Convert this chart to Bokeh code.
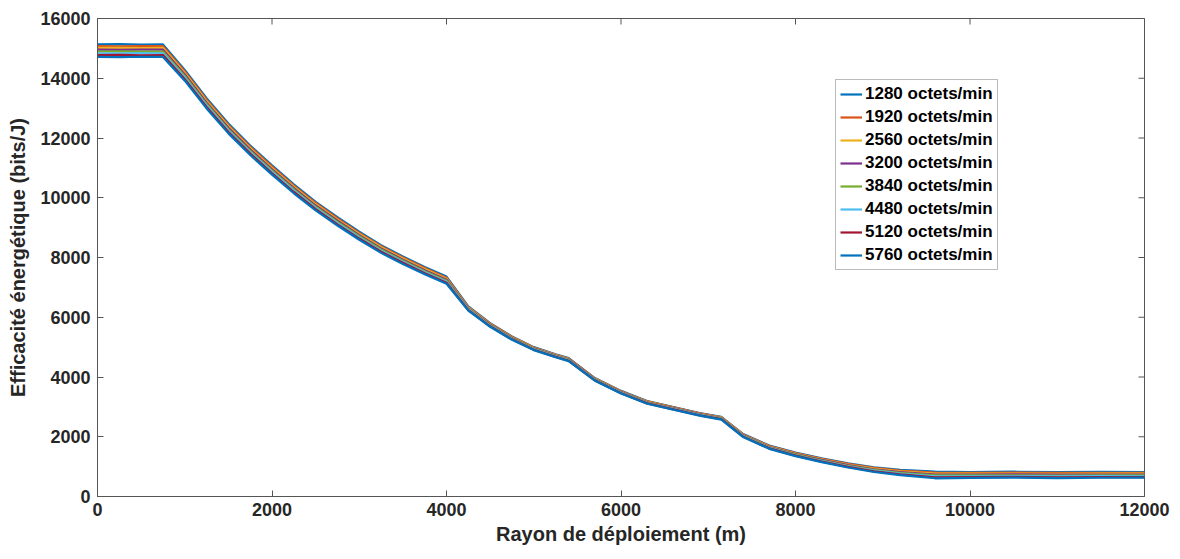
from bokeh.plotting import figure
from bokeh.models import Range1d, Legend, LegendItem, FixedTicker
from bokeh.embed import file_html
from bokeh.resources import INLINE
import math

# Rayon de déploiement (m)
x_m = [0, 250, 500, 750, 1000, 1250, 1500, 1750, 2000, 2250, 2500, 2750, 3000, 3250,
       3500, 3750, 4000, 4250, 4500, 4750, 5000, 5250, 5400, 5700, 6000, 6300, 6600,
       6900, 7150, 7400, 7700, 8000, 8300, 8600, 8900, 9200, 9600, 10000, 10500, 11000,
       11500, 12000]

# Efficacité énergétique (bits/J) per traffic rate
s1280 = [15135, 15140, 15130, 15135, 14280, 13330, 12485, 11750, 11085, 10450, 9865, 9350,
         8865, 8415, 8035, 7680, 7360, 6360, 5800, 5355, 5000, 4760, 4630, 3965, 3535, 3195,
         2995, 2795, 2665, 2090, 1705, 1470, 1280, 1110, 980, 895, 830, 820, 830, 815, 825, 820]
s1920 = [15075, 15070, 15080, 15075, 14229, 13281, 12438, 11704, 11041, 10407, 9824, 9310,
         8826, 8378, 7999, 7646, 7326, 6340, 5783, 5339, 4986, 4746, 4616, 3952, 3522, 3182,
         2982, 2782, 2652, 2076, 1689, 1453, 1261, 1090, 957, 869, 799, 791, 800, 788, 795, 791]
s2560 = [15015, 15020, 15010, 15015, 14177, 13233, 12391, 11659, 10996, 10364, 9782, 9270,
         8788, 8341, 7964, 7611, 7291, 6320, 5766, 5324, 4971, 4731, 4601, 3939, 3509, 3169,
         2969, 2769, 2639, 2061, 1674, 1436, 1243, 1070, 934, 844, 767, 763, 770, 758, 766, 763]
s3200 = [14955, 14950, 14960, 14955, 14126, 13184, 12344, 11613, 10952, 10321, 9741, 9230,
         8749, 8304, 7928, 7577, 7257, 6300, 5749, 5308, 4957, 4717, 4587, 3926, 3496, 3156,
         2956, 2756, 2626, 2047, 1658, 1419, 1224, 1050, 911, 818, 736, 734, 740, 729, 737, 734]
s3840 = [14895, 14900, 14890, 14895, 14074, 13136, 12296, 11567, 10908, 10279, 9699, 9190,
         8711, 8266, 7892, 7543, 7223, 6280, 5731, 5292, 4943, 4703, 4573, 3914, 3484, 3144,
         2944, 2744, 2614, 2033, 1642, 1401, 1206, 1030, 889, 792, 704, 706, 712, 700, 709, 706]
s4480 = [14835, 14830, 14840, 14835, 14023, 13087, 12249, 11521, 10864, 10236, 9658, 9150,
         8672, 8229, 7856, 7509, 7189, 6260, 5714, 5276, 4929, 4689, 4559, 3901, 3471, 3131,
         2931, 2731, 2601, 2019, 1626, 1382, 1187, 1010, 866, 766, 673, 677, 684, 671, 680, 677]
s5120 = [14775, 14780, 14770, 14775, 13971, 13039, 12202, 11476, 10819, 10193, 9616, 9110,
         8634, 8192, 7821, 7474, 7154, 6240, 5697, 5261, 4914, 4674, 4544, 3888, 3458, 3118,
         2918, 2718, 2588, 2004, 1611, 1367, 1169, 990, 843, 741, 641, 649, 655, 643, 652, 649]
s5760 = [14715, 14710, 14720, 14715, 13920, 12990, 12155, 11430, 10775, 10150, 9575, 9070,
         8595, 8155, 7785, 7440, 7120, 6220, 5680, 5245, 4900, 4660, 4530, 3875, 3445, 3105,
         2905, 2705, 2575, 1990, 1595, 1350, 1150, 970, 820, 715, 610, 625, 632, 618, 628, 630]

series = [s1280, s1920, s2560, s3200, s3840, s4480, s5120, s5760]
labels = ["1280 octets/min", "1920 octets/min", "2560 octets/min", "3200 octets/min",
          "3840 octets/min", "4480 octets/min", "5120 octets/min", "5760 octets/min"]
colors = ["#0072BD", "#D95319", "#EDB120", "#7E2F8E", "#77AC30", "#4DBEEE", "#A2142F", "#0072BD"]

x_ticks = [0, 2000, 4000, 6000, 8000, 10000, 12000]
y_ticks = [0, 2000, 4000, 6000, 8000, 10000, 12000, 14000, 16000]
X_MAX = 12000
Y_MAX = 16000

FONT = "Liberation Sans"
AX_COLOR = "#555555"
TXT = "#262626"

p = figure(width=1180, height=559, output_backend="svg", toolbar_location=None,
           x_range=Range1d(0, X_MAX), y_range=Range1d(0, Y_MAX),
           min_border_left=97, min_border_right=36, min_border_top=18, min_border_bottom=63)
p.background_fill_color = "white"
p.border_fill_color = "white"
p.outline_line_color = AX_COLOR
p.outline_line_width = 1
p.grid.visible = False

items = []
for s, lab, c in zip(series, labels, colors):
    r = p.line(x_m, s, line_color=c, line_width=2.2)
    items.append(LegendItem(label=lab, renderers=[r]))

# mirrored tick marks on top and right edges (box on); the half outside the frame is clipped
p.scatter(x=x_ticks, y=[Y_MAX] * len(x_ticks), marker="dash", angle=math.pi / 2, size=12,
          line_color=AX_COLOR, line_width=1)
p.scatter(x=[X_MAX] * len(y_ticks), y=y_ticks, marker="dash", size=12,
          line_color=AX_COLOR, line_width=1)

for ax in [p.xaxis[0], p.yaxis[0]]:
    ax.axis_line_color = AX_COLOR
    ax.major_tick_line_color = AX_COLOR
    ax.major_tick_in = 6
    ax.major_tick_out = 0
    ax.minor_tick_line_color = None
    ax.major_label_text_font = FONT
    ax.major_label_text_font_style = "bold"
    ax.major_label_text_font_size = "18px"
    ax.major_label_text_color = TXT
    ax.axis_label_text_font = FONT
    ax.axis_label_text_font_style = "bold"
    ax.axis_label_text_color = TXT

p.xaxis[0].ticker = FixedTicker(ticks=x_ticks)
p.yaxis[0].ticker = FixedTicker(ticks=y_ticks)
p.xaxis[0].axis_label = "Rayon de déploiement (m)"
p.yaxis[0].axis_label = "Efficacité énergétique (bits/J)"
p.xaxis[0].axis_label_text_font_size = "20px"
p.yaxis[0].axis_label_text_font_size = "20px"
p.xaxis[0].major_label_standoff = 6
p.yaxis[0].major_label_standoff = 7
p.xaxis[0].axis_label_standoff = 4
p.yaxis[0].axis_label_standoff = 8

legend = Legend(items=items, location=(738, 226))
legend.margin = 0
legend.padding = 4
legend.spacing = 3
legend.glyph_width = 22
legend.glyph_height = 20
legend.label_height = 20
legend.label_standoff = 3
legend.label_text_font = FONT
legend.label_text_font_style = "bold"
legend.label_text_font_size = "17px"
legend.label_text_color = "black"
legend.border_line_color = "#777777"
legend.border_line_width = 1
legend.background_fill_color = "white"
legend.background_fill_alpha = 1
p.add_layout(legend, "center")

open("out.html", "w").write(file_html(p, INLINE))
